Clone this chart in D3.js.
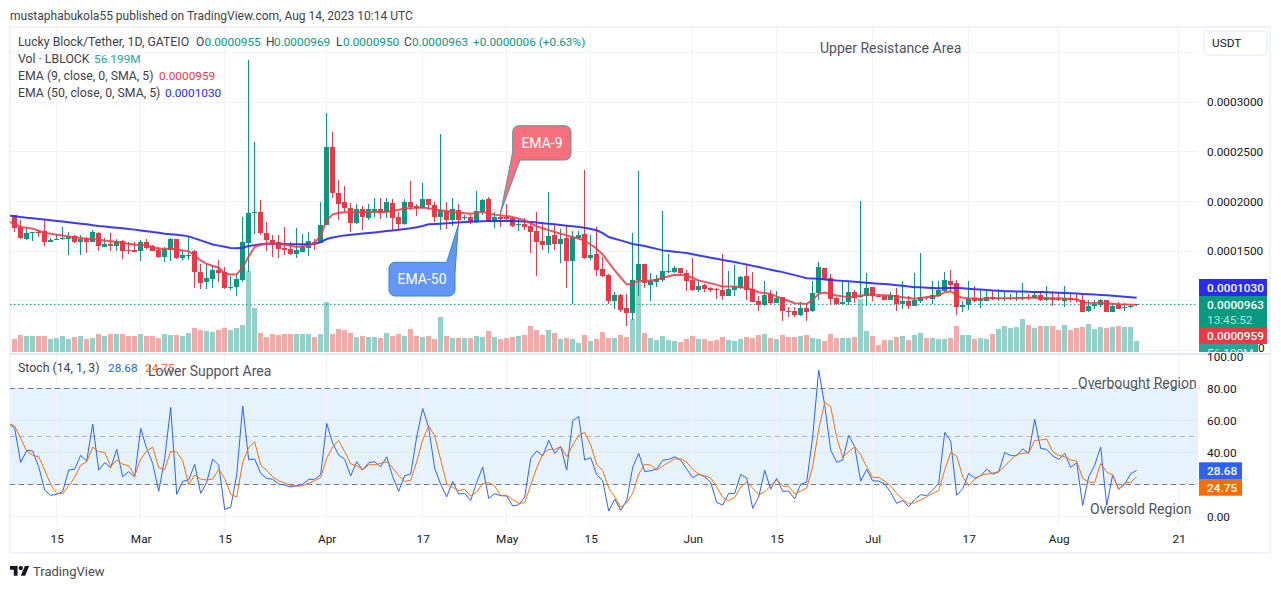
<!DOCTYPE html>
<html>
<head>
<meta charset="utf-8">
<script src="https://cdn.jsdelivr.net/npm/d3@7"></script>
<style>
  html, body { margin: 0; padding: 0; background: #fff; }
  text { font-family: Roboto, sans-serif; }
</style>
</head>
<body>
<div id="chart"></div>
<script>
const firstDay = Date.UTC(2023, 1, 8);

const open = [
1860,1742,1625,1682,1689,1699,1591,1611,1618,1621,
1655,1591,1618,1591,1685,1540,1567,1551,1598,1507,
1507,1500,1588,1547,1514,1439,1510,1618,1429,1446,
1500,1285,1187,1217,1305,1288,1126,1143,1204,1584,
1884,1897,1685,1615,1594,1527,1517,1470,1490,1527,
1591,1584,1759,2547,2089,1992,1938,1783,1921,1833,
1901,1921,1894,1988,1840,1769,1992,1951,1938,2022,
1968,1840,1904,1810,1911,1833,1844,1793,1897,2022,
1806,1840,1840,1837,1763,1769,1753,1699,1598,1561,
1658,1567,1628,1396,1628,1668,1429,1466,1315,1264,
1002,1062,931,881,1211,1366,1163,1187,1204,1288,
1285,1325,1281,1204,1113,1163,1126,1120,1113,1052,
1113,1126,1254,1123,1002,955,1069,982,1036,901,
901,861,931,894,1073,1325,1224,1032,972,992,
1083,1036,1046,1143,1052,1046,1012,1062,972,1002,
951,1002,1042,1022,1052,1103,1194,1174,935,961,
1025,995,1002,1039,1019,1022,1019,1019,1029,1042,
1025,1062,1009,1029,1022,995,1029,1022,1009,894,
948,961,1009,891,961,928,938,955];

const close = [
1732,1631,1685,1695,1678,1591,1611,1625,1628,1638,
1591,1618,1591,1695,1551,1567,1554,1601,1500,1497,
1490,1588,1530,1500,1439,1517,1618,1429,1456,1456,
1288,1177,1224,1305,1278,1126,1143,1214,1594,1887,
1897,1682,1608,1574,1517,1514,1466,1507,1540,1598,
1581,1759,2547,2086,1971,1934,1780,1921,1844,1921,
1921,1884,1992,1833,1769,1992,1941,1938,2029,1961,
1840,1901,1810,1921,1817,1844,1793,1907,2012,1803,
1840,1823,1823,1753,1776,1743,1689,1588,1557,1648,
1574,1618,1396,1638,1665,1429,1456,1308,1254,1002,
1062,911,881,1211,1366,1177,1197,1217,1295,1295,
1325,1275,1194,1110,1150,1123,1113,1113,1052,1123,
1143,1244,1113,992,955,1062,982,1032,894,891,
861,931,891,1073,1335,1214,1022,972,992,1083,
1032,1052,1133,1046,1042,1012,1062,972,1002,951,
1009,1042,1032,1062,1113,1204,1163,935,961,1019,
995,1015,1039,1025,1025,1029,1025,1032,1039,1029,
1062,1009,1032,1009,1009,1025,1009,1009,891,951,
972,1009,891,951,921,938,948,963];

const high = [
1860,1810,1732,1695,1709,1810,1631,1658,1742,1692,
1665,1658,1641,1709,1692,1631,1685,1621,1608,1591,
1591,1608,1625,1557,1540,1540,1635,1625,1507,1648,
1507,1372,1372,1355,1413,1338,1248,1264,1843,3426,
2598,2012,1793,1665,1658,1742,1591,1736,1668,1692,
1625,1995,2894,2695,2214,2153,1988,1978,1951,1978,
2039,2039,2039,2029,1894,2029,2204,1978,2190,2029,
1995,2679,1995,2039,1971,1867,1871,2103,2029,2046,
1894,1911,1978,1844,1827,1837,1793,1894,1793,2093,
1776,1726,1759,1699,1699,2315,1658,1743,1440,1271,
1086,1069,1069,1685,2305,1366,1275,1261,1901,1467,
1349,1332,1305,1433,1204,1170,1137,1126,1467,1295,
1355,1254,1355,1285,1046,1194,1113,1096,1036,935,
941,985,961,1194,1386,1332,1271,1042,1194,1184,
1113,2002,1275,1143,1069,1062,1093,1133,1194,1052,
1275,1477,1052,1194,1194,1285,1305,1204,1002,1194,
1153,1113,1096,1103,1120,1086,1069,1086,1177,1069,
1093,1093,1153,1096,1076,1153,1079,1069,1059,1009,
1009,1019,1012,978,992,978,961,969];

const low = [
1692,1625,1615,1598,1642,1547,1588,1608,1608,1460,
1584,1460,1480,1588,1500,1537,1500,1500,1419,1470,
1487,1399,1524,1497,1433,1386,1399,1423,1406,1406,
1126,1116,1116,1126,1187,1120,1113,1052,1187,1288,
1675,1665,1497,1439,1433,1456,1463,1429,1487,1446,
1514,1584,1759,2035,1810,1894,1692,1776,1709,1817,
1844,1827,1837,1702,1716,1766,1911,1854,1928,1911,
1793,1716,1726,1753,1749,1817,1769,1786,1860,1793,
1736,1743,1810,1743,1702,1716,1480,1248,1514,1480,
1514,1379,1126,968,1621,1416,1406,1254,1237,968,
914,884,749,807,1046,1126,1002,1137,1187,1278,
1278,1271,1103,1103,1086,1086,1086,1019,1009,1049,
1052,1120,1012,985,901,951,961,978,800,834,
834,850,793,891,1012,1204,961,961,961,961,
982,1029,951,1002,1036,1009,1009,901,918,918,
945,975,1009,968,1042,1093,1103,860,884,908,
985,924,995,1012,1002,1002,1012,995,1009,1012,
1022,1002,995,948,1002,935,992,992,884,891,
918,941,887,887,914,897,931,950];

// volume in millions
const volume = [
65,88,82,82,82,82,67,74,82,67,
75,82,67,72,93,82,93,93,93,82,
82,93,81,82,72,93,88,88,82,96,
122,114,109,103,114,122,114,126,140,424,
229,98,79,93,88,93,93,93,93,93,
77,93,259,93,119,114,98,77,82,77,
77,72,98,82,93,82,119,82,77,82,
67,182,82,72,72,72,72,82,77,109,
77,67,72,77,82,88,135,114,88,114,
98,67,72,67,46,88,56,67,103,72,
72,88,77,172,376,98,72,61,82,61,
56,51,67,82,67,67,56,61,77,61,
56,67,77,72,88,93,72,67,88,77,
77,82,88,72,67,56,93,72,72,72,
77,277,109,82,35,61,61,77,82,61,
88,98,72,72,67,67,72,135,88,88,
67,72,67,93,119,135,124,130,172,140,
124,135,135,135,114,140,114,124,130,145,
119,130,124,130,135,130,130,56];

// the four lines below start one day before the first candle, cut off by the pane edge
const ema9 = [1796,
1776,1742,1734,1726,1705,1685,1675,1665,1656,1648,
1640,1632,1625,1620,1614,1606,1598,1591,1582,1573,
1564,1560,1557,1540,1524,1524,1524,1515,1507,1497,
1456,1406,1372,1350,1332,1278,1264,1264,1338,1446,
1541,1564,1574,1578,1572,1567,1554,1541,1549,1557,
1581,1658,1810,1870,1884,1891,1892,1893,1894,1894,
1894,1894,1894,1905,1917,1928,1932,1935,1938,1930,
1921,1912,1903,1894,1888,1882,1877,1885,1894,1880,
1867,1859,1852,1844,1827,1810,1780,1749,1730,1711,
1692,1675,1658,1641,1625,1608,1566,1524,1466,1385,
1305,1234,1163,1170,1204,1194,1204,1214,1231,1246,
1261,1258,1254,1229,1204,1190,1177,1160,1143,1143,
1143,1136,1130,1108,1086,1077,1069,1044,1019,997,
975,971,968,1009,1069,1083,1067,1052,1044,1036,
1044,1052,1057,1062,1059,1055,1052,1044,1036,1027,
1019,1027,1036,1044,1052,1086,1096,1052,1030,1025,
1022,1020,1022,1024,1025,1025,1026,1027,1028,1030,
1032,1030,1028,1026,1024,1022,1018,1014,985,980,
978,982,975,970,965,962,960,959];

const ema50 = [1857,
1850,1843,1836,1830,1823,1817,1810,1804,1797,1790,
1783,1776,1769,1761,1753,1747,1741,1735,1729,1722,
1716,1708,1700,1692,1684,1675,1670,1664,1658,1648,
1628,1608,1588,1567,1555,1543,1530,1528,1534,1551,
1560,1568,1574,1574,1573,1572,1570,1568,1568,1569,
1571,1590,1621,1636,1648,1658,1664,1670,1676,1682,
1688,1695,1702,1708,1715,1722,1730,1740,1752,1769,
1772,1775,1779,1786,1789,1792,1795,1798,1801,1803,
1803,1803,1803,1802,1800,1798,1794,1788,1781,1775,
1769,1763,1756,1750,1743,1735,1722,1709,1680,1642,
1625,1608,1590,1571,1561,1551,1536,1522,1507,1500,
1493,1487,1480,1468,1456,1445,1433,1422,1411,1400,
1389,1376,1364,1351,1339,1326,1313,1300,1288,1273,
1258,1243,1227,1224,1221,1215,1210,1204,1200,1196,
1191,1187,1182,1177,1172,1168,1163,1157,1150,1144,
1137,1135,1132,1129,1126,1128,1129,1130,1125,1120,
1116,1112,1108,1104,1100,1096,1095,1093,1092,1090,
1089,1087,1085,1083,1081,1079,1076,1072,1069,1066,
1062,1059,1055,1050,1046,1040,1035,1030];

const stochK = [58,
54.9,33.7,41.2,40.8,31,16.4,13.1,13.7,15.4,28.9,
29.5,38.1,34.5,57.7,28.9,33.5,30.4,41.8,24.7,27.9,
24.7,54.9,42.4,33.1,15.6,36.2,68.1,13.7,21.8,22.7,
32.5,14.3,21.2,35.8,32,4.3,5.6,25.8,68.9,35.4,
35.8,26.8,23.7,23.1,20.2,19.5,18.3,19.1,20,23.1,
23.1,26.2,58.1,45.6,38.3,35.6,25.2,34.1,28.9,33.5,
34.1,31,37.2,24.7,15.6,25.4,26.4,49.7,67.4,55.4,
29.9,20,12.2,21.8,13.9,14.3,9.9,21.2,30.8,11.2,
14.1,12.9,12.7,6.4,7.2,12,36.2,40.8,37.7,47.4,
39.3,43.7,28.9,59.7,62.4,35.2,36.6,26.2,22.2,3.3,
10.8,3.7,9.7,30.6,39.3,27.9,28.5,29.5,35,35.6,
37.2,35,29.5,24.1,26.4,24.7,21.2,8.7,7,14.3,
14.3,26.2,23.9,5,12,28.7,17,23.7,15.6,15.8,
10.8,20,21.4,49.7,91.4,69.5,41.4,33.7,35.2,50.6,
43.5,22,29.3,22.2,22,20.2,14.9,8.1,9.9,6,
10.4,13.5,12.9,16.4,20.6,52.4,47,13.1,17.2,26.8,
23.9,25.2,29.5,26.4,27.7,39.9,37.9,37.9,42.2,39.3,
60.6,42.4,41.8,37.7,35.6,39.3,30.6,33.5,6.8,24.7,
32,43.3,6.8,26,16.8,20,26.6,28.68];

const stochD = [58,
56.4,48.7,40.8,38.1,37.2,28.9,20,14.3,14.1,19.1,
24.3,32,34.1,43.3,40.4,40,31,35.2,32.5,31.6,
25.4,35.8,40.8,43.3,30.4,29.3,40.6,40.2,34.7,19.8,
25.8,23.3,22.7,23.3,29.3,23.7,13.7,12,33.7,43.1,
46.6,32,28.5,24.7,22.2,20.8,19.3,18.7,19.1,20.8,
22.2,24.3,36.2,43.5,47.4,40.4,32.7,31.6,29.1,32.2,
32.2,33.1,34.1,30.4,25.4,21.8,22.5,34.1,47.7,56.6,
50.2,35.2,20.4,18.1,16,16.8,12.7,15.2,20.6,21,
18.9,12.9,13.1,10.4,8.1,8.5,19.5,30.2,38.9,41.8,
41.8,43.5,37.2,44.5,50.6,52.4,44.5,32.5,28.5,17.7,
12.2,5.6,8.5,14.3,26.4,32.5,32,28.9,31.4,33.7,
36,35.8,33.9,29.3,26.4,25.2,24.1,18.3,11.8,9.7,
11.8,18.3,21.2,17.7,13.5,15.4,19.1,22.7,18.9,18.5,
14.1,15.8,17.7,31,54.3,71.2,68.5,49.3,36.8,40.4,
43.5,38.3,31,24.3,24.3,22,18.9,14.3,10.6,7.7,
8.5,10.2,12.2,14.3,16,28.9,39.9,37.7,24.7,19.1,
23.1,25.6,26.4,27,27.9,31.4,35.2,38.7,39.3,39.7,
47.4,47.7,48.3,40.4,38.1,37.2,35.2,34.5,23.7,21.4,
21.2,33.1,27.7,25.6,17,21,21.2,24.75];

const priceTicks = [1500, 2000, 2500, 3000];
const priceGrid = [500, 1000, 1500, 2000, 2500, 3000, 3500];
const stochTicks = [0, 40, 60, 80, 100];
const stochGrid = [0, 20, 40, 60, 80];
const timeTicks = [
  [Date.UTC(2023, 1, 15), "15"], [Date.UTC(2023, 2, 1), "Mar"], [Date.UTC(2023, 2, 15), "15"],
  [Date.UTC(2023, 3, 1), "Apr"], [Date.UTC(2023, 3, 17), "17"], [Date.UTC(2023, 4, 1), "May"],
  [Date.UTC(2023, 4, 15), "15"], [Date.UTC(2023, 5, 1), "Jun"], [Date.UTC(2023, 5, 15), "15"],
  [Date.UTC(2023, 6, 1), "Jul"], [Date.UTC(2023, 6, 17), "17"], [Date.UTC(2023, 7, 1), "Aug"],
  [Date.UTC(2023, 7, 21), "21"]
];

const width = 1281, height = 589;
const paneLeft = 10, paneRight = 1198;
const up = "#089981", down = "#f23645";
const gridColor = "#f0f3fa", textColor = "#131722", noteColor = "#50535e";
const labelSize = 11.8;
const DAY = 86400000;

const dayOf = i => firstDay + i * DAY;

const x = d3.scaleUtc()
  .domain([Date.UTC(2023, 1, 15), Date.UTC(2023, 7, 21)])
  .range([56.7, 1178.7]);
const y = d3.scaleLinear().domain([500, 3000]).range([350.4, 102.1]);
const yStoch = d3.scaleLinear().domain([0, 100]).range([516.3, 356.3]);
const yVol = d3.scaleLinear().domain([0, 56.199]).range([351.7, 341]);

const svg = d3.select("#chart").append("svg")
  .attr("width", width)
  .attr("height", height)
  .style("display", "block");

const defs = svg.append("defs");
defs.append("clipPath").attr("id", "paneClip").append("rect")
  .attr("x", paneLeft).attr("y", 27).attr("width", paneRight - paneLeft).attr("height", 326);
defs.append("clipPath").attr("id", "stochClip").append("rect")
  .attr("x", paneLeft).attr("y", 355).attr("width", paneRight - paneLeft).attr("height", 170);
defs.append("clipPath").attr("id", "axisClip").append("rect")
  .attr("x", 1199).attr("y", 27).attr("width", 70).attr("height", 325);
defs.append("clipPath").attr("id", "stochAxisClip").append("rect")
  .attr("x", 1199).attr("y", 353).attr("width", 70).attr("height", 170);

// header
svg.append("text").attr("x", 10).attr("y", 19.5)
  .attr("font-size", 12).attr("fill", "#3c3f4a")
  .text("mustaphabukola55 published on TradingView.com, Aug 14, 2023 10:14 UTC");

// frame
svg.append("rect").attr("x", 10).attr("y", 27).attr("width", 1260).attr("height", 526)
  .attr("fill", "#fff").attr("stroke", gridColor).attr("stroke-width", 2);

// stochastic band below the grid
svg.append("rect")
  .attr("x", paneLeft).attr("width", paneRight - paneLeft)
  .attr("y", yStoch(80)).attr("height", yStoch(20) - yStoch(80))
  .attr("fill", "#e6f3fd");

// grid
const grid = svg.append("g").attr("stroke", gridColor).attr("stroke-width", 1).attr("shape-rendering", "crispEdges");
grid.selectAll(".v").data(timeTicks).enter().append("line")
  .attr("x1", d => x(d[0])).attr("x2", d => x(d[0])).attr("y1", 28).attr("y2", 525);
grid.selectAll(".h").data(priceGrid).enter().append("line")
  .attr("x1", paneLeft).attr("x2", paneRight).attr("y1", d => y(d)).attr("y2", d => y(d));
grid.selectAll(".s").data(stochGrid).enter().append("line")
  .attr("x1", paneLeft).attr("x2", paneRight).attr("y1", d => yStoch(d)).attr("y2", d => yStoch(d))
  .attr("stroke", d => (d > 0 ? "#dce8f2" : gridColor));

// pane separator
svg.append("line").attr("x1", 10).attr("x2", 1270).attr("y1", 354).attr("y2", 354)
  .attr("stroke", "#e6e9f3").attr("stroke-width", 2);

// volume
const main = svg.append("g").attr("clip-path", "url(#paneClip)");
main.selectAll(".vol").data(volume).enter().append("rect")
  .attr("x", (d, i) => Math.floor(x(dayOf(i))) - 2)
  .attr("width", 5)
  .attr("y", d => yVol(d))
  .attr("height", d => yVol(0) - yVol(d))
  .attr("fill", (d, i) => (close[i] >= open[i] ? "#93d2c9" : "#f7a9a7"))
  .attr("shape-rendering", "crispEdges");

// last price line
main.append("line").attr("x1", paneLeft).attr("x2", paneRight)
  .attr("y1", y(963)).attr("y2", y(963))
  .attr("stroke", up).attr("stroke-width", 1).attr("stroke-dasharray", "1.5 2.5");

// candles
main.selectAll(".wick").data(open).enter().append("rect")
  .attr("x", (d, i) => Math.floor(x(dayOf(i))))
  .attr("width", 1)
  .attr("y", (d, i) => y(high[i]))
  .attr("height", (d, i) => y(low[i]) - y(high[i]))
  .attr("fill", (d, i) => (close[i] >= open[i] ? up : down))
  .attr("shape-rendering", "crispEdges");
main.selectAll(".body").data(open).enter().append("rect")
  .attr("x", (d, i) => Math.floor(x(dayOf(i))) - 2)
  .attr("width", 5)
  .attr("y", (d, i) => y(Math.max(open[i], close[i])))
  .attr("height", (d, i) => Math.max(1, Math.abs(y(open[i]) - y(close[i]))))
  .attr("fill", (d, i) => (close[i] >= open[i] ? up : down))
  .attr("shape-rendering", "crispEdges");

// moving averages
const priceLine = d3.line().x((d, i) => x(dayOf(i - 1))).y(d => y(d));
main.append("path").attr("d", priceLine(ema50))
  .attr("fill", "none").attr("stroke", "#2a2aff").attr("stroke-width", 2).attr("opacity", 0.92);
main.append("path").attr("d", priceLine(ema9))
  .attr("fill", "none").attr("stroke", "#f23645").attr("stroke-width", 2).attr("opacity", 0.85);

// stochastic
svg.selectAll(".band").data([80, 50, 20]).enter().append("line")
  .attr("x1", paneLeft).attr("x2", paneRight)
  .attr("y1", d => yStoch(d)).attr("y2", d => yStoch(d))
  .attr("stroke", d => (d === 50 ? "#b0b3bc" : "#787b86"))
  .attr("stroke-width", 1).attr("stroke-dasharray", "5 4")
  .attr("shape-rendering", "crispEdges");
const stoch = svg.append("g").attr("clip-path", "url(#stochClip)");
const stochLine = d3.line().x((d, i) => x(dayOf(i - 1))).y(d => yStoch(d));
stoch.append("path").attr("d", stochLine(stochK))
  .attr("fill", "none").attr("stroke", "#2962ff").attr("stroke-width", 1);
stoch.append("path").attr("d", stochLine(stochD))
  .attr("fill", "none").attr("stroke", "#ff6d00").attr("stroke-width", 1);

// axes
const priceAxis = d3.axisRight(y).tickValues(priceTicks).tickSize(0).tickPadding(0)
  .tickFormat(d => (d / 1e7).toFixed(7));
const stochAxis = d3.axisRight(yStoch).tickValues(stochTicks).tickSize(0).tickPadding(0)
  .tickFormat(d => d.toFixed(2));
const timeAxis = d3.axisBottom(x).tickValues(timeTicks.map(d => d[0])).tickSize(0).tickPadding(0)
  .tickFormat(d => timeTicks.find(t => t[0] === +d)[1]);

const styleAxis = g => {
  g.select(".domain").remove();
  g.selectAll("text").attr("font-family", "Roboto").attr("font-size", labelSize).attr("fill", textColor);
};
svg.append("g").attr("transform", "translate(1207,0)").call(priceAxis).call(styleAxis);
svg.append("g").attr("clip-path", "url(#stochAxisClip)")
  .append("g").attr("transform", "translate(1207,0)").call(stochAxis).call(styleAxis);
svg.append("g").attr("transform", "translate(0,535)").call(timeAxis).call(styleAxis);

// price labels
const priceLabels = [
  { y0: 279, y1: 296, fill: "#2a2aff", text: "0.0001030", ty: 292 },
  { y0: 296, y1: 327, fill: up, text: "0.0000963", ty: 309 },
  { y0: 327, y1: 344, fill: down, text: "0.0000959", ty: 340 }
];
svg.selectAll(".plabel").data(priceLabels).enter().append("rect")
  .attr("x", 1199).attr("width", 68).attr("y", d => d.y0).attr("height", d => d.y1 - d.y0)
  .attr("fill", d => d.fill);
svg.selectAll(".ptext").data(priceLabels).enter().append("text")
  .attr("x", 1207).attr("y", d => d.ty).attr("font-size", labelSize).attr("font-weight", 500)
  .attr("fill", "#fff").text(d => d.text);
svg.append("text").attr("x", 1207).attr("y", 323.5).attr("font-size", labelSize)
  .attr("fill", "#b8e0d8").text("13:45:52");

const volLabel = svg.append("g").attr("clip-path", "url(#axisClip)");
volLabel.append("rect").attr("x", 1199).attr("y", 344).attr("width", 59).attr("height", 10).attr("fill", "#26a69a");
volLabel.append("text").attr("x", 1207).attr("y", 357).attr("font-size", labelSize).attr("fill", "#d8f0ec").text("56.199M");
volLabel.append("text").attr("x", 1258).attr("y", 352).attr("font-size", labelSize).attr("fill", textColor).text("0");

const stochLabels = [
  { y0: 462.3, fill: "#2962ff", text: "28.68" },
  { y0: 479, fill: "#ff6d00", text: "24.75" }
];
svg.selectAll(".slabel").data(stochLabels).enter().append("rect")
  .attr("x", 1199).attr("width", 43).attr("height", 16.7).attr("y", d => d.y0).attr("fill", d => d.fill);
svg.selectAll(".stext").data(stochLabels).enter().append("text")
  .attr("x", 1207).attr("y", d => d.y0 + 13).attr("font-size", labelSize).attr("font-weight", 500)
  .attr("fill", "#fff").text(d => d.text);

// currency button
svg.append("rect").attr("x", 1204).attr("y", 31).attr("width", 63).attr("height", 24).attr("rx", 4)
  .attr("fill", "#fff").attr("stroke", gridColor).attr("stroke-width", 2);
svg.append("text").attr("x", 1212).attr("y", 47).attr("font-size", labelSize).attr("fill", textColor).text("USDT");

// legend, the names run a little wider than the numbers
const legendRows = [
  { x: 18, y: 46, fill: "#3c3f4a", size: 12.3, text: "Lucky Block/Tether, 1D, GATEIO" },
  { x: 196, y: 46, fill: "#3c3f4a", size: 12, text: "O" },
  { x: 204.5, y: 46, fill: up, size: labelSize, text: "0.0000955" },
  { x: 266, y: 46, fill: "#3c3f4a", size: 12, text: "H" },
  { x: 274, y: 46, fill: up, size: labelSize, text: "0.0000969" },
  { x: 336, y: 46, fill: "#3c3f4a", size: 12, text: "L" },
  { x: 343, y: 46, fill: up, size: labelSize, text: "0.0000950" },
  { x: 404, y: 46, fill: "#3c3f4a", size: 12, text: "C" },
  { x: 412, y: 46, fill: up, size: labelSize, text: "0.0000963" },
  { x: 473, y: 46, fill: up, size: labelSize, text: "+0.0000006 (+0.63%)" },
  { x: 18, y: 63, fill: "#3c3f4a", size: 12.3, text: "Vol · LBLOCK" },
  { x: 94, y: 63, fill: "#26a69a", size: labelSize, text: "56.199M" },
  { x: 18, y: 80, fill: "#3c3f4a", size: 12.3, text: "EMA (9, close, 0, SMA, 5)" },
  { x: 159, y: 80, fill: down, size: labelSize, text: "0.0000959" },
  { x: 18, y: 96.5, fill: "#3c3f4a", size: 12.3, text: "EMA (50, close, 0, SMA, 5)" },
  { x: 165, y: 96.5, fill: "#2a2aff", size: labelSize, text: "0.0001030" },
  { x: 18, y: 372, fill: "#3c3f4a", size: 12.3, text: "Stoch (14, 1, 3)" },
  { x: 108, y: 372, fill: "#2962ff", size: labelSize, text: "28.68" },
  { x: 145, y: 372, fill: "#ff6d00", size: labelSize, text: "24.75" }
];
svg.selectAll(".legend").data(legendRows).enter().append("text")
  .attr("x", d => d.x).attr("y", d => d.y).attr("font-size", d => d.size)
  .attr("fill", d => d.fill).text(d => d.text);

// notes written on the chart
const notes = [
  { x: 820, y: 53, text: "Upper Resistance Area" },
  { x: 148, y: 376, text: "Lower Support Area" },
  { x: 1078, y: 388, text: "Overbought Region" },
  { x: 1090, y: 514, text: "Oversold Region" }
];
svg.selectAll(".note").data(notes).enter().append("text")
  .attr("x", d => d.x).attr("y", d => d.y).attr("font-size", 14)
  .attr("fill", noteColor).text(d => d.text);

// callouts
svg.append("path")
  .attr("d", "M518.7,125.7 H565 a6,6 0 0 1 6,6 V154 a6,6 0 0 1 -6,6 H520 L500.5,213 L512.7,152 V131.7 a6,6 0 0 1 6,-6 Z")
  .attr("fill", "#f7707c").attr("stroke", "#4f9aa5").attr("stroke-width", 1);
svg.append("text").attr("x", 542).attr("y", 147.5).attr("text-anchor", "middle")
  .attr("font-size", 14).attr("fill", "#fff").text("EMA-9");
svg.append("path")
  .attr("d", "M395,262.3 H446.7 L458.3,225 L455,273 V290 a6,6 0 0 1 -6,6 H395 a6,6 0 0 1 -6,-6 V268.3 a6,6 0 0 1 6,-6 Z")
  .attr("fill", "#6495f7").attr("stroke", "#2a8fc4").attr("stroke-width", 1);
svg.append("text").attr("x", 422).attr("y", 283.5).attr("text-anchor", "middle")
  .attr("font-size", 14).attr("fill", "#fff").text("EMA-50");

// logo
const logo = svg.append("g").attr("transform", "translate(10,563.8) scale(0.54)").attr("fill", "#131722");
logo.append("path").attr("d", "M14 22H7V11H0V4h14v18zM28 22h-8l7.5-18h8L28 22z");
logo.append("circle").attr("cx", 20).attr("cy", 8).attr("r", 4);
svg.append("text").attr("x", 33).attr("y", 576).attr("font-size", 13).attr("fill", "#4a4a4a").text("TradingView");
</script>
</body>
</html>
